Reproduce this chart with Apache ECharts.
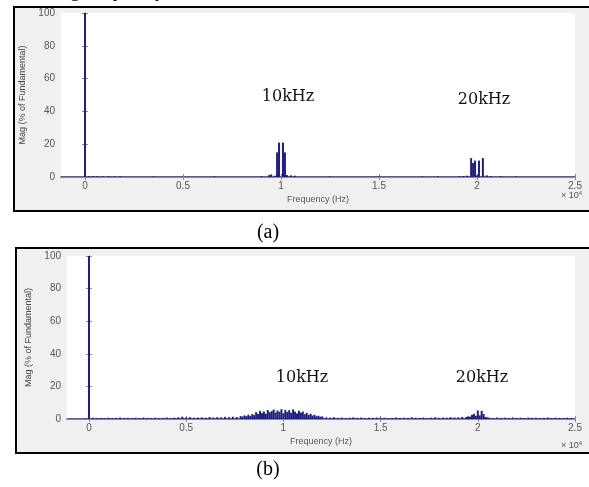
<!DOCTYPE html>
<html>
  <head>
      <meta charset="utf-8">
      <script src="https://cdn.jsdelivr.net/npm/echarts@6/dist/echarts.min.js"></script>
      <style>body{margin:0;background:#fff;}</style>
  </head>
  <body>
      <div id="main" style="width: 589px;height:487px;"></div>
      <script type="text/javascript">
          // spectrum (a): frequency (Hz) and magnitude (% of fundamental)
          var freqA = [0, 200, 400, 600, 900, 1200, 1500, 1800, 3500, 6600, 9000, 9400, 9500, 9700,
              9800, 9900, 10100, 10200, 10300, 10500, 10700, 12500, 15000, 17200, 18000, 19100,
              19300, 19500, 19700, 19800, 19900, 20000, 20100, 20300, 20500, 20700, 21200, 22000];
          var magA = [100, 0.6, 0.5, 0.5, 0.4, 0.5, 0.4, 0.5, 0.3, 0.4, 0.6, 1.2, 1.6, 0.8,
              15, 21, 21, 15, 1.2, 1.0, 0.8, 0.3, 0.3, 0.3, 0.5, 0.4,
              0.6, 0.8, 11.5, 8.5, 10, 1, 10, 11.5, 1, 0.6, 0.5, 0.4];

          // spectrum (b)
          var freqB = [0,
              200, 400, 600, 800, 1000, 1200, 1400, 1600, 1800, 2000, 2200, 2400, 2600, 2800, 3000,
              3200, 3400, 3600, 3800, 4000, 4200, 4400, 4600, 4800, 5000, 5200, 5400, 5600, 5800,
              6000, 6200, 6400, 6600, 6800, 7000, 7200, 7400, 7600, 7800,
              7900, 8000, 8100, 8200, 8300, 8400, 8500, 8600, 8700, 8800, 8900, 9000, 9100, 9200,
              9300, 9400, 9500, 9600, 9700, 9800, 9900, 10000, 10100, 10200, 10300, 10400, 10500,
              10600, 10700, 10800, 10900, 11000, 11100, 11200, 11300, 11400, 11500, 11600, 11700,
              11800, 11900, 12000,
              12200, 12400, 12600, 12800, 13000, 13200, 13400, 13600, 13800, 14000, 14200, 14400,
              14600, 14800, 15000, 15200, 15400, 15600, 15800, 16000, 16200, 16400, 16600, 16800,
              17000, 17200, 17400, 17600, 17800, 18000, 18200, 18400, 18600, 18800, 19000, 19200,
              19400, 19500, 19600, 19700, 19800, 19900, 20000, 20100, 20200, 20300, 20400, 20500,
              20600, 20800, 21000, 21200, 21400, 21600, 21800, 22000, 22200, 22400, 22600, 22800,
              23000, 23200, 23400, 23600, 23800, 24000, 24200, 24400, 24600, 24800];
          var magB = [100,
              0.8, 0.6, 0.7, 0.5, 0.8, 0.6, 0.7, 0.9, 0.6, 0.7, 0.5, 0.8, 0.6, 0.9, 0.7,
              0.6, 0.8, 0.5, 0.7, 0.9, 0.6, 0.8, 1.0, 1.4, 0.9, 1.1, 0.8, 0.9, 1.0,
              0.8, 1.2, 0.9, 1.1, 1.0, 1.3, 1.1, 1.4, 1.2, 1.8,
              1.5, 2.2, 1.8, 2.6, 1.9, 3.0, 2.4, 4.2, 3.1, 5.0, 3.6, 4.6, 3.2, 5.5,
              4.1, 4.8, 5.8, 3.9, 5.2, 4.4, 6.0, 3.5, 5.6, 4.3, 5.4, 3.8, 5.9,
              4.5, 3.4, 5.1, 3.9, 4.6, 2.9, 3.8, 2.5, 3.2, 2.1, 2.6, 1.7,
              2.0, 1.4, 1.6,
              1.0, 0.8, 1.1, 0.7, 0.9, 0.6, 0.8, 1.0, 0.7, 0.9, 0.6, 0.8,
              0.7, 0.9, 0.6, 0.8, 0.5, 0.7, 0.9, 0.6, 0.8, 0.7, 1.0, 0.8,
              0.7, 0.9, 0.6, 0.8, 1.0, 0.7, 0.9, 0.8, 1.1, 0.9, 1.0, 1.3,
              1.2, 1.6, 1.4, 2.5, 3.2, 2.0, 5.2, 2.2, 5.0, 3.0, 1.3, 1.0,
              0.8, 0.6, 0.9, 0.7, 0.8, 0.6, 0.9, 0.7, 0.8, 0.6, 0.9, 0.7,
              0.8, 0.6, 0.7, 0.9, 0.6, 0.8, 0.7, 0.6, 0.8, 0.7];

          var xTicks = [0, 5000, 10000, 15000, 20000, 25000];
          var yTicks = [0, 20, 40, 60, 80, 100];

          function pairs(xs, ys) {
              return xs.map(function (x, i) { return [x, ys[i]]; });
          }

          var boxColor = '#8a8a8a';
          var labelStyle = {color: '#555', fontSize: 10, fontFamily: 'Liberation Sans'};

          function xAxisPair(gi, min) {
              return [{
                  gridIndex: gi, type: 'value', min: min, max: 25000,
                  name: 'Frequency (Hz)', nameLocation: 'middle', nameGap: 18,
                  nameTextStyle: {color: '#555', fontSize: 9, fontFamily: 'Liberation Sans'},
                  axisLine: {lineStyle: {color: '#2b2b5e', width: 1.5}},
                  axisTick: {inside: true, length: 3, customValues: xTicks, lineStyle: {color: boxColor}},
                  axisLabel: Object.assign({margin: 4, customValues: xTicks, formatter: function (v) {
                      return String(v / 10000);
                  }}, labelStyle),
                  splitLine: {show: false}
              }, {
                  gridIndex: gi, type: 'value', position: 'top', min: min, max: 25000,
                  axisLine: {lineStyle: {color: boxColor}},
                  axisTick: {inside: true, length: 3, customValues: xTicks, lineStyle: {color: boxColor}},
                  axisLabel: {show: false},
                  splitLine: {show: false}
              }];
          }

          function yAxisPair(gi, gap) {
              return [{
                  gridIndex: gi, type: 'value', min: 0, max: 100, interval: 20,
                  name: 'Mag (% of Fundamental)', nameLocation: 'middle', nameGap: gap,
                  nameTextStyle: {color: '#444', fontSize: 9, fontFamily: 'Liberation Sans'},
                  axisLine: {show: true, lineStyle: {color: boxColor}},
                  axisTick: {show: true, inside: true, length: 3, lineStyle: {color: boxColor}},
                  axisLabel: Object.assign({margin: 6}, labelStyle),
                  splitLine: {show: false}
              }, {
                  gridIndex: gi, type: 'value', position: 'right', min: 0, max: 100, interval: 20,
                  axisLine: {show: true, lineStyle: {color: boxColor}},
                  axisTick: {show: true, inside: true, length: 3, lineStyle: {color: boxColor}},
                  axisLabel: {show: false},
                  splitLine: {show: false}
              }];
          }

          var serif = 'DejaVu Serif';
          var barColor = '#1e1e7c';
          var kHzFont = '16px "' + serif + '"';
          var expStyle = {text: '× 10{s|4}', fill: '#555', font: '9px "Liberation Sans"', align: 'right',
              verticalAlign: 'middle', rich: {s: {fontSize: 6, verticalAlign: 'top', padding: [0, 0, 6, 0]}}};

          var myChart = echarts.init(document.getElementById('main'));
          var option = {
              animation: false,
              backgroundColor: '#fff',
              grid: [
                  {left: 61, top: 13, right: 14, height: 164, show: true, backgroundColor: '#fff', borderWidth: 0},
                  {left: 67, top: 256, right: 14, height: 163, show: true, backgroundColor: '#fff', borderWidth: 0}
              ],
              xAxis: xAxisPair(0, -1225).concat(xAxisPair(1, -1130)),
              yAxis: yAxisPair(0, 33).concat(yAxisPair(1, 32)),
              graphic: [
                  {type: 'rect', z: -10, shape: {x: 14, y: 7, width: 576, height: 204},
                      style: {fill: '#f0f0f0', stroke: '#000', lineWidth: 2}},
                  {type: 'rect', z: -10, shape: {x: 16, y: 248, width: 574, height: 205},
                      style: {fill: '#f0f0f0', stroke: '#000', lineWidth: 2}},
                  {type: 'text', left: 70, top: -19, style: {text: 'g frequency', font: '20px "Liberation Serif"', fill: '#000'}},
                  {type: 'text', x: 288, y: 97, style: {text: '10kHz', font: kHzFont, fill: '#111', align: 'center', verticalAlign: 'middle'}},
                  {type: 'text', x: 484, y: 100, style: {text: '20kHz', font: kHzFont, fill: '#111', align: 'center', verticalAlign: 'middle'}},
                  {type: 'text', x: 302, y: 378, style: {text: '10kHz', font: kHzFont, fill: '#111', align: 'center', verticalAlign: 'middle'}},
                  {type: 'text', x: 482, y: 378, style: {text: '20kHz', font: kHzFont, fill: '#111', align: 'center', verticalAlign: 'middle'}},
                  {type: 'text', x: 268, y: 233, style: {text: '(a)', font: '20px "Liberation Serif"', fill: '#000', align: 'center', verticalAlign: 'middle'}},
                  {type: 'text', x: 268, y: 470, style: {text: '(b)', font: '20px "Liberation Serif"', fill: '#000', align: 'center', verticalAlign: 'middle'}},
                  {type: 'text', x: 582, y: 196, style: expStyle},
                  {type: 'text', x: 582, y: 446, style: expStyle}
              ],
              series: [
                  {type: 'bar', xAxisIndex: 0, yAxisIndex: 0, barWidth: 2, itemStyle: {color: barColor}, data: pairs(freqA, magA)},
                  {type: 'bar', xAxisIndex: 2, yAxisIndex: 2, barWidth: 2, itemStyle: {color: barColor}, data: pairs(freqB, magB)}
              ]
          };
          myChart.setOption(option);
      </script>
  </body>
</html>
